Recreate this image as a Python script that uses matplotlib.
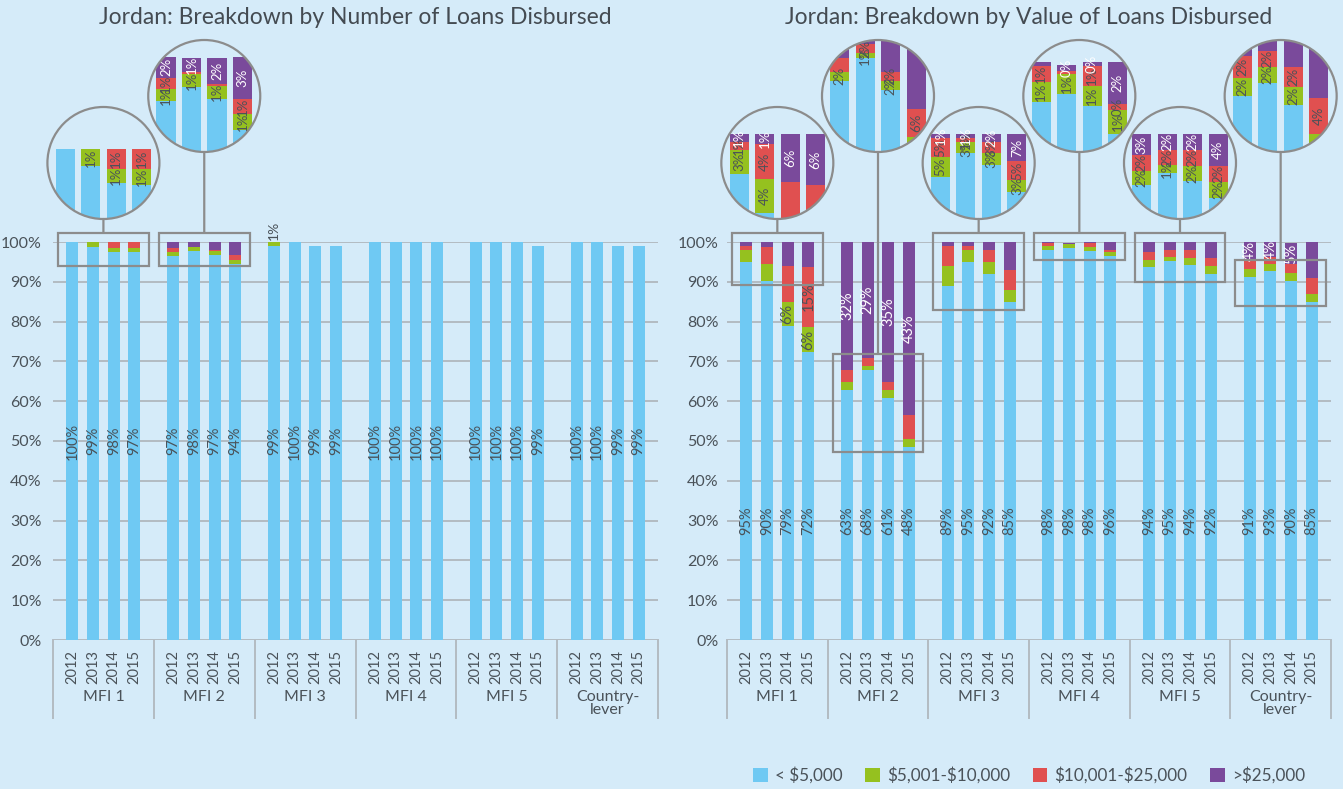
import numpy as np
import matplotlib
matplotlib.use("Agg")
import matplotlib.pyplot as plt
from matplotlib.patches import Rectangle, Circle, Patch, ConnectionPatch
from matplotlib.transforms import blended_transform_factory

plt.rcParams['font.family'] = ['Lato', 'DejaVu Sans']

# --- data ---
groups = ['MFI 1', 'MFI 2', 'MFI 3', 'MFI 4', 'MFI 5', 'Country-\nlever']
years = ['2012', '2013', '2014', '2015']
bands = ['< \\$5,000', '\\$5,001-\\$10,000', '\\$10,001-\\$25,000', '>\\$25,000']

# share of number of loans (%), 6 groups x 4 years
num_lt5k = [100, 98.8, 97.6, 97.4,  96.6, 97.7, 96.8, 94.4,  99, 100, 99, 99,
            100, 100, 100, 100,  100, 100, 100, 99,  100, 100, 99, 99]
num_5k10k = [0, 1.2, 1.0, 1.2,  0.9, 1.0, 1.0, 1.2,  1, 0, 0, 0,
             0, 0, 0, 0,  0, 0, 0, 0,  0, 0, 0, 0]
num_10k25k = [0, 0, 1.4, 1.4,  0.9, 0.15, 0.15, 1.2,  0, 0, 0, 0,
              0, 0, 0, 0,  0, 0, 0, 0,  0, 0, 0, 0]
num_gt25k = [0, 0, 0, 0,  1.6, 1.1, 2.0, 3.2,  0, 0, 0, 0,
             0, 0, 0, 0,  0, 0, 0, 0,  0, 0, 0, 0]

# share of value of loans (%)
val_lt5k = [95, 90.2, 78.9, 72.4,  62.8, 67.8, 60.8, 48.4,  89, 95, 92, 85,
            98, 98.4, 97.8, 96.4,  93.6, 95.2, 94.2, 92.0,  91.2, 92.6, 90.2, 85]
val_5k10k = [3, 4.2, 6.0, 6.2,  2.0, 1.0, 2.0, 2.1,  5, 3, 3, 3,
             1, 1.0, 1.0, 1.2,  1.8, 1.0, 1.8, 2.0,  2.0, 1.8, 2.0, 2]
val_10k25k = [1, 4.4, 9.1, 15.1,  3.0, 2.1, 2.0, 6.1,  5, 1, 3, 5,
              0.8, 0.15, 1.0, 0.3,  2.0, 1.8, 2.0, 2.0,  2.4, 1.8, 2.2, 4]
val_gt25k = [1, 1.2, 6.0, 6.3,  32.2, 29.1, 35.2, 43.4,  1, 1, 2, 7,
             0.2, 0.3, 0.2, 2.1,  2.6, 2.0, 2.0, 4.0,  4.4, 3.8, 5.4, 9]

# --- style ---
BG = '#d5ebf9'
COLORS = ['#6fc9f3', '#95c11f', '#e05050', '#7a4a9b']
TXT = '#4a5259'
GRID = '#b3bbc2'
LINE = '#8c8c8c'
W, H = 1343, 789

fig = plt.figure(figsize=(W / 100, H / 100), dpi=100, facecolor=BG)


def bar_x(g, j):
    return g + 0.5 + (j - 1.5) * 0.205


def fmt(v):
    return f"{int(round(v))}%"


def draw_panel(x0, x1, title, series, zooms, blue_y, pad):
    ax = fig.add_axes([x0 / W, 1 - 640 / H, (x1 - x0) / W, 398 / H])
    ax.set_facecolor(BG)
    n = len(series[0])
    xs = np.array([bar_x(i // 4, i % 4) for i in range(n)])
    bottoms = np.zeros(n)
    for k, vals in enumerate(series):
        ax.bar(xs, vals, width=0.12, bottom=bottoms, color=COLORS[k], zorder=2)
        bottoms += np.array(vals)
    ax.set_xlim(0, 6)
    ax.set_ylim(0, 100)
    ax.set_yticks(range(0, 101, 10))
    ax.set_yticklabels([f"{t}%" for t in range(0, 101, 10)])
    ax.tick_params(axis='y', length=0, pad=pad, labelsize=11.5, labelcolor=TXT)
    ax.set_xticks([])
    ax.yaxis.grid(True, color=GRID, lw=1.4)
    ax.set_axisbelow(True)
    for s in ax.spines.values():
        s.set_visible(False)

    trans = blended_transform_factory(ax.transData, ax.transAxes)
    for g in range(7):
        ax.plot([g, g], [0, -0.195], color=GRID, lw=1.4, transform=trans, clip_on=False)
    for g, name in enumerate(groups):
        ax.text(g + 0.5, -0.125, name, transform=trans, ha='center', va='top',
                fontsize=11.5, color=TXT, linespacing=0.95)
        for j, y in enumerate(years):
            ax.text(bar_x(g, j), -0.025, y, transform=trans, rotation=90,
                    ha='center', va='top', fontsize=10.5, color=TXT)

    boxes = {z[0]: (z[1], z[2]) for z in zooms}
    # segment labels
    for i in range(n):
        g = i // 4
        ax.text(xs[i], blue_y, fmt(series[0][i]), rotation=90, ha='center',
                va='center', fontsize=10.5, color=TXT, zorder=3)
        base = series[0][i]
        for k in range(1, 4):
            v = series[k][i]
            c = base + v / 2
            base += v
            if round(v) < 1:
                continue
            if g in boxes and boxes[g][0] <= c <= boxes[g][1]:
                continue
            col = 'white' if k == 3 else TXT
            if v >= 3.5:
                ax.text(xs[i], c, fmt(v), rotation=90, ha='center', va='center',
                        fontsize=10.5, color=col, zorder=3)
            else:
                ax.text(xs[i], bottoms[i] + 0.6, fmt(v), rotation=90, ha='center',
                        va='bottom', fontsize=10, color=TXT, zorder=3)

    # magnifier circles
    R = 56
    for g, lo, hi, cy, vlo, vhi in zooms:
        ax.add_patch(Rectangle((g + 0.05, lo), 0.9, hi - lo, fill=False,
                               edgecolor=LINE, lw=1.6, clip_on=False, zorder=4))
        cx = x0 + (g + 0.5) / 6 * (x1 - x0)
        ai = fig.add_axes([(cx - R) / W, 1 - (cy + R) / H, 2 * R / W, 2 * R / H])
        ai.set_xlim(g + 0.05, g + 0.95)
        ai.set_ylim(vlo, vhi)
        ai.axis('off')
        clip = Circle((0.5, 0.5), 0.5, transform=ai.transAxes)
        ai.add_patch(Circle((0.5, 0.5), 0.5, transform=ai.transAxes,
                            facecolor=BG, edgecolor='none', zorder=0))
        idx = list(range(g * 4, g * 4 + 4))
        bx = xs[idx]
        bot = np.zeros(4)
        for k, vals in enumerate(series):
            v = np.array(vals)[idx]
            bc = ai.bar(bx, v, width=0.153, bottom=bot, color=COLORS[k], zorder=2)
            for p in bc:
                p.set_clip_path(clip)
            if k > 0:
                for j in range(4):
                    yc = bot[j] + v[j] / 2
                    ux = (bx[j] - (g + 0.05)) / 0.9
                    uy = (yc - vlo) / (vhi - vlo)
                    # Agg does not clip text to a path: keep only labels inside the lens
                    if v[j] >= 0.2 and np.hypot(ux - 0.5, uy - 0.5) < 0.44:
                        ai.text(bx[j], yc, fmt(v[j]), rotation=90,
                                ha='center', va='center', fontsize=9.5,
                                color='white' if k == 3 else TXT, zorder=3)
            bot += v
        ai.add_patch(Circle((0.5, 0.5), 0.5, transform=ai.transAxes, fill=False,
                            edgecolor=LINE, lw=1.6, zorder=10, clip_on=False))
        con = ConnectionPatch(xyA=(g + 0.5, hi), coordsA=ax.transData,
                              xyB=(0.5, 0), coordsB=ai.transAxes,
                              color=LINE, lw=1.6)
        fig.add_artist(con)

    fig.text((x0 + x1) / 2 / W, 1 - 18 / H, title, ha='center', va='center',
             fontsize=16.5, color='#444b52')
    return ax


num_series = [num_lt5k, num_5k10k, num_10k25k, num_gt25k]
val_series = [val_lt5k, val_5k10k, val_10k25k, val_gt25k]

# group, box lo, box hi, circle centre (px from top), view lo, view hi
num_zooms = [(0, 94.0, 102.3, 163, 95.0, 103.0),
             (1, 94.0, 102.3, 96, 92.7, 101.3)]
val_zooms = [(0, 89.2, 102.3, 163, 89.4, 103.4),
             (1, 47.2, 71.9, 96, 47.3, 71.7),
             (2, 83.0, 102.3, 163, 78.0, 107.0),
             (3, 95.5, 102.3, 96, 95.5, 101.1),
             (4, 90.0, 102.3, 163, 89.4, 103.4),
             (5, 84.0, 95.5, 96, 85.0, 97.4)]

draw_panel(53, 658, 'Jordan: Breakdown by Number of Loans Disbursed',
           num_series, num_zooms, 50, 8)
draw_panel(727, 1331, 'Jordan: Breakdown by Value of Loans Disbursed',
           val_series, val_zooms, 30, 6)

handles = [Patch(facecolor=c, edgecolor='none') for c in COLORS]
fig.legend(handles, bands, loc='lower right', bbox_to_anchor=(0.983, -0.013),
           ncol=4, frameon=False, fontsize=12.3, handlelength=0.85,
           handleheight=0.85, columnspacing=1.35, handletextpad=0.4,
           labelcolor=TXT)

fig.savefig('out.png', dpi=100, facecolor=BG)
